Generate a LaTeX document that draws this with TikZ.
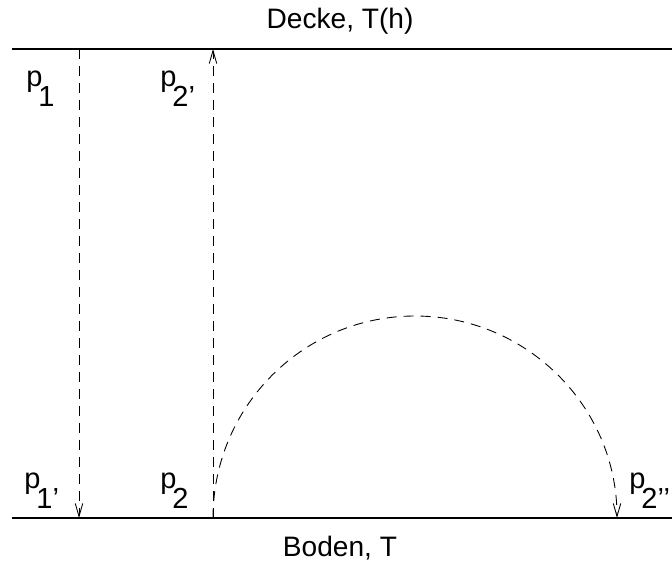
\documentclass[tikz,border=0pt]{standalone}
\usepackage{fontspec}
\setmainfont{Liberation Sans}
\usetikzlibrary{arrows.meta,positioning}
\newcommand{\idx}[1]{\kern-0.08cm\raisebox{-0.41cm}{#1}}

\begin{document}
\begin{tikzpicture}[
    x=0.02cm, y=-0.02cm,
    wall/.style={draw=black, line width=1.6pt},
    path/.style={draw=black, line width=0.5pt, dash pattern=on 2mm off 1.4mm,
        -{Straight Barb[length=2.6mm, width=1.5mm]}},
    lbl/.style={font=\fontsize{16}{18}\selectfont, inner sep=1pt},
    plbl/.style={font=\fontsize{16.5}{18}\selectfont, inner sep=0pt, anchor=base west}
]
    \useasboundingbox (0,0) rectangle (672,568);
    % walls
    \coordinate (topL) at (12,49);
    \coordinate (topR) at (672,49);
    \coordinate (botL) at (12,518);
    \coordinate (botR) at (672,518);
    \draw[wall] (topL) -- (topR);
    \draw[wall] (botL) -- (botR);
    \node[lbl] (decke) at (340,21) {Decke, T(h)};
    \node[lbl] (boden) at (340,548) {Boden, T};

    % particle points
    \coordinate (p1) at (79,49);
    \coordinate (p1s) at (79,518);
    \coordinate (p2) at (213,518);
    \coordinate (p2s) at (213,49);
    \coordinate (p2ss) at (617,518);

    \node[plbl] (lp1) at (26,86) {p\idx{1}};
    \node[plbl] (lp2s) at (160,86) {p\idx{2’}};
    \node[plbl] (lp1s) at (24,488) {p\idx{1’}};
    \node[plbl] (lp2) at (160,488) {p\idx{2}};
    \node[plbl] (lp2ss) at (629,488) {p\idx{2’’}};

    % trajectories
    \draw[path] (p1) -- (p1s);
    \draw[path] (p2) -- (p2s);
    \draw[path] (p2) arc[start angle=180, end angle=360, radius=202];
\end{tikzpicture}
\end{document}
